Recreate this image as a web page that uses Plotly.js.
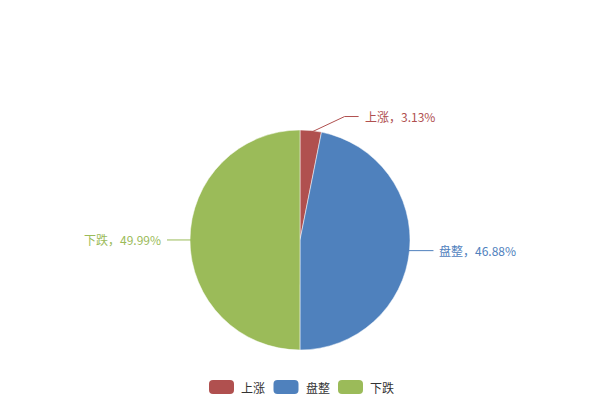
<!DOCTYPE html>
<html><head><meta charset="utf-8">
<script src="https://cdn.plot.ly/plotly-3.0.1.min.js"></script>
<style>html,body{margin:0;padding:0;background:#fff}#c{width:600px;height:400px}</style>
</head><body><div id="c"></div>
<script>
const categories = ['上涨', '盘整', '下跌'];
const values = [3.13, 46.88, 49.99];
const colors = ['#b0504f', '#4f81bd', '#9bbb59'];

const W = 600, H = 400, cx = 300, cy = 240, R = 110;
const px = x => x / W, py = y => 1 - y / H;
const FONT = '"Noto Sans CJK SC", "Microsoft YaHei", sans-serif';

// label leader-line styling per slice: [elbow dx, elbow dy from edge, horizontal length]
const lineStyle = [[34, -16, 14], [0, 0, 26], [0, 0, -25]];

const total = values.reduce((a, b) => a + b, 0);
let acc = 0;
const shapes = [], annotations = [];
values.forEach((v, i) => {
  const mid = (acc + v / 2) / total * 2 * Math.PI; acc += v;
  const ex = cx + (R - 2) * Math.sin(mid), ey = cy - (R - 2) * Math.cos(mid);
  const [dx, dy, h] = lineStyle[i];
  const bx = ex + dx, by = ey + dy, tx = bx + h;
  shapes.push({type: 'path', xref: 'paper', yref: 'paper',
    path: `M ${px(ex)} ${py(ey)} L ${px(bx)} ${py(by)} L ${px(tx)} ${py(by)}`,
    line: {color: colors[i], width: 1}});
  annotations.push({xref: 'paper', yref: 'paper', x: px(tx + (h >= 0 ? 4 : -4)), y: py(by),
    xanchor: h >= 0 ? 'left' : 'right', yanchor: 'middle', showarrow: false,
    text: categories[i] + '，' + v.toFixed(2) + '%', font: {family: FONT, size: 12, color: colors[i]}});
});

// custom legend (rounded swatches)
const legY = 387, sw = 25, sh = 14, step = 64.5, start = 209;
categories.forEach((c, i) => {
  const x0 = start + i * step, x1 = x0 + sw, y0 = legY - sh / 2, y1 = legY + sh / 2, r = 4;
  shapes.push({type: 'path', xref: 'paper', yref: 'paper', fillcolor: colors[i], line: {width: 0},
    path: `M ${px(x0 + r)} ${py(y0)} L ${px(x1 - r)} ${py(y0)} Q ${px(x1)} ${py(y0)} ${px(x1)} ${py(y0 + r)} L ${px(x1)} ${py(y1 - r)} Q ${px(x1)} ${py(y1)} ${px(x1 - r)} ${py(y1)} L ${px(x0 + r)} ${py(y1)} Q ${px(x0)} ${py(y1)} ${px(x0)} ${py(y1 - r)} L ${px(x0)} ${py(y0 + r)} Q ${px(x0)} ${py(y0)} ${px(x0 + r)} ${py(y0)} Z`});
  annotations.push({xref: 'paper', yref: 'paper', x: px(x1 + 5), y: py(legY), xanchor: 'left', yanchor: 'middle',
    showarrow: false, text: c, font: {family: FONT, size: 12, color: '#333'}});
});

Plotly.newPlot('c', [{
  type: 'pie', labels: categories, values: values, sort: false, direction: 'clockwise', rotation: 0,
  marker: {colors: colors, line: {color: '#fff', width: 0.5}},
  textinfo: 'none', hoverinfo: 'none',
  domain: {x: [0, 1], y: [py(cy + R), py(cy - R)]}
}], {
  width: W, height: H, margin: {l: 0, r: 0, t: 0, b: 0}, showlegend: false,
  paper_bgcolor: '#fff', shapes: shapes, annotations: annotations
}, {staticPlot: true});
</script></body></html>
